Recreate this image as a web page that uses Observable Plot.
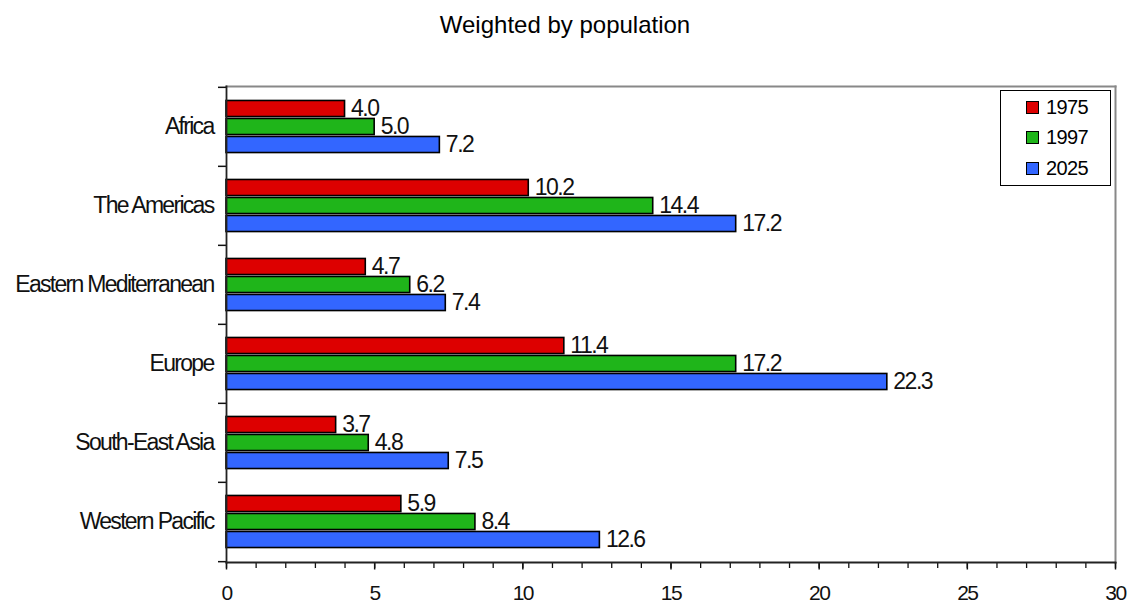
<!DOCTYPE html>
<html>
<head>
<meta charset="utf-8">
<script src="https://cdn.jsdelivr.net/npm/d3@7"></script>
<script src="https://cdn.jsdelivr.net/npm/@observablehq/plot@0.6"></script>
<style>
  html, body { margin: 0; padding: 0; background: #fff; }
  #wrap { position: relative; width: 1130px; height: 605px; font-family: "Liberation Sans", Arial, sans-serif; }
  #title { position: absolute; left: 0; top: 13px; width: 1130px; text-align: center; font-size: 24px; line-height: 24px; color: #000; }
  #chart { position: absolute; left: 0; top: 0; }
  #legend { position: absolute; left: 1000px; top: 90px; width: 109px; height: 94px; border: 1px solid #000; background: #fff; box-sizing: content-box; }
  .lrow { position: absolute; left: 25px; height: 20px; display: flex; align-items: center; font-size: 20px; letter-spacing: -0.6px; }
  .sw { width: 11px; height: 11px; border: 1.5px solid #000; margin-right: 7px; }
  g[aria-label="y-axis tick label"] text { letter-spacing: -1.7px; }
  g[aria-label="x-axis tick label"] text { letter-spacing: -1.5px; }
  g[aria-label="text"] text { letter-spacing: -1.5px; }
</style>
</head>
<body>
<div id="wrap">
  <div id="chart"></div>
  <div id="title">Weighted by population</div>
  <div id="legend"></div>
</div>
<script>
const regions = ["Africa", "The Americas", "Eastern Mediterranean", "Europe", "South-East Asia", "Western Pacific"];
const years = ["1975", "1997", "2025"];
const values1975 = [4.0, 10.2, 4.7, 11.4, 3.7, 5.9];
const values1997 = [5.0, 14.4, 6.2, 17.2, 4.8, 8.4];
const values2025 = [7.2, 17.2, 7.4, 22.3, 7.5, 12.6];
const colors = ["#dd0000", "#1fb51a", "#3366ff"];
const xMajorTicks = [0, 5, 10, 15, 20, 25, 30];
const xMinorTicks = d3.range(0, 31, 1);

const series = [values1975, values1997, values2025];

const W = 1130, H = 605;
const mTop = 86, mBottom = 43, mLeft = 226, mRight = 15;
const band = (H - mTop - mBottom) / regions.length;
const barStep = 18;
const barH = 16.4;
const inset = (band - barH) / 2;

const marks = [];
years.forEach((yr, i) => {
  const data = regions.map((r, j) => ({region: r, year: yr, value: series[i][j]}));
  marks.push(Plot.barX(data, {
    x: "value", y: "region", fill: colors[i], stroke: "#000", strokeWidth: 1.6,
    insetTop: inset, insetBottom: inset, dy: (i - 1) * barStep
  }));
  marks.push(Plot.text(data, {
    x: "value", y: "region", text: d => d.value.toFixed(1),
    dx: 6, dy: (i - 1) * barStep, textAnchor: "start", fontSize: 23, fill: "#111"
  }));
});

const svg = Plot.plot({
  width: W, height: H,
  marginTop: mTop, marginBottom: mBottom, marginLeft: mLeft, marginRight: mRight,
  style: {fontFamily: "'Liberation Sans', Arial, sans-serif", background: "transparent", color: "#111"},
  x: {domain: [0, 30], axis: null, label: null},
  y: {domain: regions, padding: 0, axis: null, label: null},
  marks: [
    Plot.frame({anchor: "top", stroke: "#888", strokeWidth: 2}),
    Plot.frame({anchor: "right", stroke: "#888", strokeWidth: 2}),
    ...marks,
    Plot.axisY({anchor: "left", label: null, tickSize: 0, tickPadding: 13, fontSize: 23, tickFormat: d => d}),
    Plot.axisY({anchor: "left", label: null, ticks: regions, tickSize: 8, tickFormat: () => "", dy: -band / 2, strokeWidth: 1.5}),
    Plot.axisY({anchor: "left", label: null, ticks: [regions[regions.length - 1]], tickSize: 8, tickFormat: () => "", dy: band / 2, strokeWidth: 1.5}),
    Plot.axisX({anchor: "bottom", label: null, ticks: xMinorTicks, tickSize: 6, tickFormat: () => "", strokeWidth: 1.3}),
    Plot.axisX({anchor: "bottom", label: null, ticks: xMajorTicks, tickSize: 7.5, tickPadding: 15, fontSize: 21, strokeWidth: 1.5}),
    Plot.frame({anchor: "left", stroke: "#222", strokeWidth: 1.8}),
    Plot.frame({anchor: "bottom", stroke: "#222", strokeWidth: 1.8})
  ]
});
document.getElementById("chart").appendChild(svg);

const legend = document.getElementById("legend");
years.forEach((yr, i) => {
  const row = document.createElement("div");
  row.className = "lrow";
  row.style.top = (6 + i * 30.5) + "px";
  const sw = document.createElement("div");
  sw.className = "sw";
  sw.style.background = colors[i];
  const t = document.createElement("span");
  t.textContent = yr;
  row.appendChild(sw);
  row.appendChild(t);
  legend.appendChild(row);
});
</script>
</body>
</html>
